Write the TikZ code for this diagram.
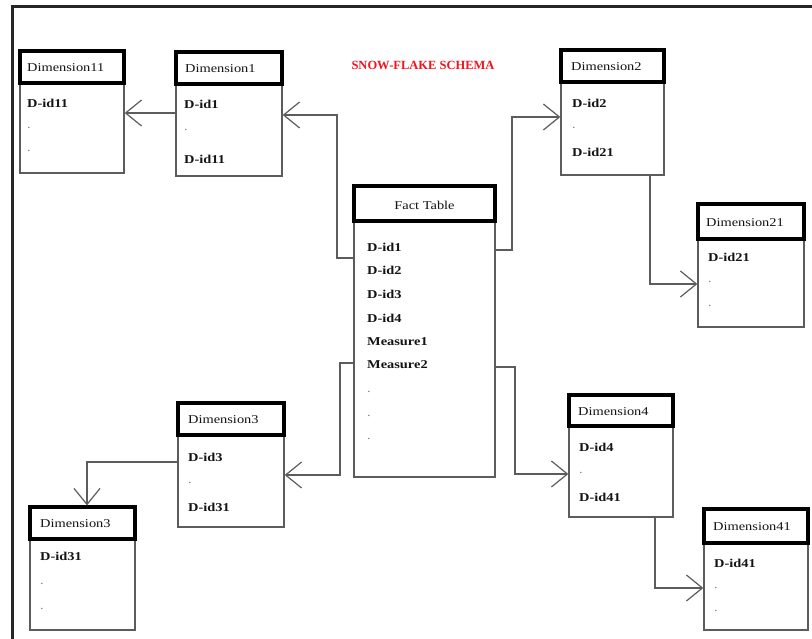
\documentclass[tikz,border=0pt]{standalone}
\usepackage{fontspec}
\setmainfont{Liberation Serif}[FakeStretch=1.2]
\newfontfamily\titlefont{Liberation Serif}
\usetikzlibrary{arrows.meta,calc}
\definecolor{linegray}{HTML}{5C5C5C}
\definecolor{txt}{HTML}{141414}
\definecolor{titlered}{HTML}{F0141E}
\tikzset{
  bodybox/.style={draw=linegray, line width=1.3pt, fill=white, inner sep=0pt},
  hdrbox/.style={draw=black, line width=3.2pt, inner sep=0pt},
  hdrtext/.style={anchor=west, inner sep=0pt, text=txt, font=\fontsize{12}{14}\selectfont},
  item/.style={anchor=west, inner sep=0pt, text=txt, font=\fontsize{12}{14}\selectfont\bfseries},
  dotitem/.style={anchor=west, inner sep=0pt, text=gray, font=\fontsize{12}{14}\selectfont},
  conn/.style={draw=linegray, line width=1.2pt},
  tip/.style={-{Straight Barb[length=16pt,width=26pt,line width=1.2pt]}},
  frame/.style={draw=black!85, line width=3pt}
}
% name, x1, ytop, x2, yhdrbottom, ybottom, title x, title
\newcommand\tablebox[8]{%
  \node[bodybox, minimum width={#4-#2}, minimum height={#6-#5}] (#1b) at ({(#2+#4)/2},{(#5+#6)/2}) {};
  \node[hdrbox, minimum width={#4-#2}, minimum height={#5-#3}] (#1h) at ({(#2+#4)/2},{(#3+#5)/2}) {};
  \node[hdrtext] (#1t) at (#7,{(#3+#5)/2+1}) {#8};
}
\begin{document}
\begin{tikzpicture}[x=1pt,y=-1pt]
\useasboundingbox (0,0) rectangle (812,639);
\fill[white] (0,0) rectangle (812,639);
\draw[frame] (12,639) -- (12,7) -- (812,7);

\node[inner sep=0pt, text=titlered, font=\titlefont\fontsize{12.5}{14}\selectfont\bfseries] (title) at (423,65) {SNOW-FLAKE SCHEMA};

% Dimension11
\tablebox{dA}{20}{51}{124}{83}{173}{27}{Dimension11}
\node[item] (dAi1) at (27,103) {D-id11};
\node[dotitem] (dAi2) at (27,128) {.};
\node[dotitem] (dAi3) at (27,151) {.};

% Dimension1
\tablebox{dB}{176}{52}{282}{84}{176}{185}{Dimension1}
\node[item] (dBi1) at (184,104) {D-id1};
\node[dotitem] (dBi2) at (184,130) {.};
\node[item] (dBi3) at (184,159) {D-id11};

% Fact table
\node[bodybox, minimum width=141, minimum height=256] (fb) at (424.5,349) {};
\node[hdrbox, minimum width=141, minimum height=35] (fh) at (424.5,203.5) {};
\node[inner sep=0pt, text=txt, font=\fontsize{12}{14}\selectfont] (ft) at (424.5,205) {Fact Table};
\node[item] (fi1) at (367,247) {D-id1};
\node[item] (fi2) at (367,270) {D-id2};
\node[item] (fi3) at (367,294) {D-id3};
\node[item] (fi4) at (367,318) {D-id4};
\node[item] (fi5) at (367,342) {Measure1};
\node[item] (fi6) at (367,365) {Measure2};
\node[dotitem] (fi7) at (367,392) {.};
\node[dotitem] (fi8) at (367,416) {.};
\node[dotitem] (fi9) at (367,439) {.};

% Dimension2
\tablebox{dC}{561}{50}{664}{82}{175}{571}{Dimension2}
\node[item] (dCi1) at (572,103) {D-id2};
\node[dotitem] (dCi2) at (572,128) {.};
\node[item] (dCi3) at (572,152) {D-id21};

% Dimension21
\tablebox{dD}{698}{204}{804}{239}{327}{706}{Dimension21}
\node[item] (dDi1) at (708,257) {D-id21};
\node[dotitem] (dDi2) at (708,282) {.};
\node[dotitem] (dDi3) at (708,306) {.};

% Dimension3 (upper)
\tablebox{dE}{178}{403}{284}{435}{527}{188}{Dimension3}
\node[item] (dEi1) at (188,457) {D-id3};
\node[dotitem] (dEi2) at (188,483) {.};
\node[item] (dEi3) at (188,507) {D-id31};

% Dimension3 (lower)
\tablebox{dF}{30}{507}{135}{539}{630}{40}{Dimension3}
\node[item] (dFi1) at (40,556) {D-id31};
\node[dotitem] (dFi2) at (40,584) {.};
\node[dotitem] (dFi3) at (40,609) {.};

% Dimension4
\tablebox{dG}{569}{395}{673}{426}{517}{578}{Dimension4}
\node[item] (dGi1) at (579,447) {D-id4};
\node[dotitem] (dGi2) at (579,473) {.};
\node[item] (dGi3) at (579,497) {D-id41};

% Dimension41
\tablebox{dH}{704}{509}{808}{543}{630}{713}{Dimension41}
\node[item] (dHi1) at (714,563) {D-id41};
\node[dotitem] (dHi2) at (714,588) {.};
\node[dotitem] (dHi3) at (714,611) {.};

% connectors
\draw[conn,tip] (fb.west |- 0,258) -- (337,258) |- (dBb.east |- 0,115);
\draw[conn,tip] (dBb.west |- 0,113) -- (dAb.east |- 0,113);
\draw[conn,tip] (fb.east |- 0,250) -- (512,250) |- (dCb.west |- 0,117);
\draw[conn,tip] (dCb.south -| 650,0) -- (650,284) -- (dDb.west |- 0,284);
\draw[conn,tip] (fb.west |- 0,363) -- (340,363) |- (dEb.east |- 0,475);
\draw[conn,tip] (dEb.west |- 0,462) -- (87,462) -- (dFh.north -| 87,0);
\draw[conn,tip] (fb.east |- 0,367) -- (515,367) |- (dGb.west |- 0,474);
\draw[conn,tip] (dGb.south -| 655,0) -- (655,588) -- (dHb.west |- 0,588);
\end{tikzpicture}
\end{document}
